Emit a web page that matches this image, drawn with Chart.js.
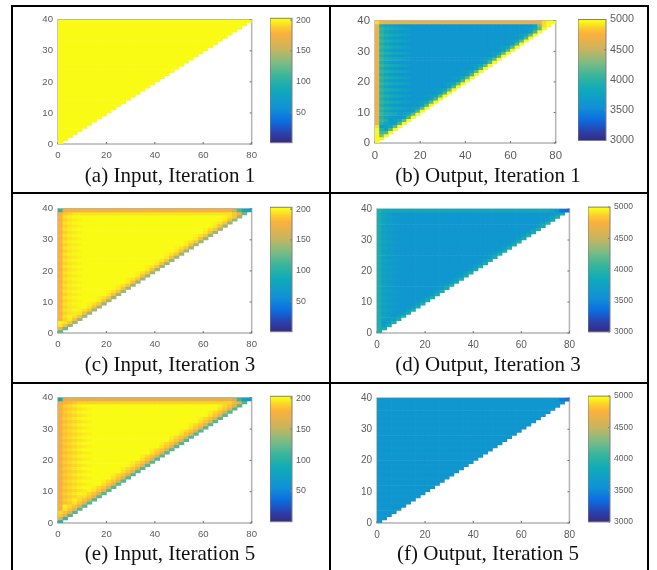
<!DOCTYPE html>
<html>
<head>
<meta charset="utf-8">
<script src="https://cdn.jsdelivr.net/npm/chart.js@4/dist/chart.umd.min.js"></script>
<style>
    html, body { margin: 0; padding: 0; background: #fff; }
    #page { position: relative; width: 657px; height: 570px; overflow: hidden; }
    #page canvas { position: absolute; filter: blur(0.45px); }
    .rule { position: absolute; background: #000; }
    .caption { position: absolute; width: 300px; text-align: center; font: 21px "Liberation Serif", serif; color: #111; line-height: 24px; white-space: nowrap; }
</style>
</head>
<body>
<div id="page"></div>
<script>
const xTicks = [0, 20, 40, 60, 80];
const yTicks = [0, 10, 20, 30, 40];
const inputBarTicks = [50, 100, 150, 200];
const outputBarTicks = [3000, 3500, 4000, 4500, 5000];
const inputRange = [0.5, 203];
const outputRange = [3000, 5000];

// every triangle row, bottom to top: first cells, the value filling the middle, last cells
const midA = [200,200,200,200,200,200,200,200,200,200,200,200,200,200,200,200,200,200,200,200,200,200,200,200,200,200,200,200,200,200,200,200,200,200,200,200,200,200,200,200];

const bE = [4700,3950,3800,3700,3650];
const bO = [4700,4050,3950,3900,3850,3800,3750,3700];
const leftB = [[5000],[5000,4400],[5000,4200],[5000,4100,3950],[5000,3950,3900,3800],[4900,4000,3900,3800,3750],bE,bO,bE,bO,bE,bO,bE,bO,bE,bO,bE,bO,bE,bO,bE,bO,bE,bO,bE,bO,bE,bO,bE,bO,bE,bO,bE,bO,bE,bO,bE,bO,[4700,3900,3800,3750,3700,3680,3650],[4900,4750]];
const midB = [3620,3620,3620,3620,3620,3620,3620,3620,3620,3620,3620,3620,3620,3620,3620,3620,3620,3620,3620,3620,3620,3620,3620,3620,3620,3620,3620,3620,3620,3620,3620,3620,3620,3620,3620,3620,3620,3620,3620,4650];
const brE = [3720,4120,5000];
const brO = [3680,3730,3820,4180,5000];
const rightB = [[5000],[5000],[4300,5000],[4150,5000],brE,brO,brE,brO,brE,brO,brE,brO,brE,brO,brE,brO,brE,brO,brE,brO,brE,brO,brE,brO,brE,brO,brE,brO,brE,brO,brE,brO,brE,brO,brE,brO,brE,brO,[3800,4300,4900,5000],[4700,4900,5000,5000]];

const cE = [178,190,194,196,198];
const cO = [180,194,197,199];
const leftC = [[120],[178],[178,190],cO,cE,cO,cE,cO,cE,cO,cE,cO,cE,cO,cE,cO,cE,cO,cE,cO,cE,cO,cE,cO,cE,cO,cE,cO,cE,cO,cE,cO,cE,cO,cE,cO,cE,cO,[176,186,190,194],[105,172,176]];
const midC = [200,200,200,200,200,200,200,200,200,200,200,200,200,200,200,200,200,200,200,200,200,200,200,200,200,200,200,200,200,200,200,200,200,200,200,200,200,200,194,176];
const crE = [196,184,140];
const crO = [198,194,186,140];
const rightC = [[120],[175,125],crE,crO,crE,crO,crE,crO,crE,crO,crE,crO,crE,crO,crE,crO,crE,crO,crE,crO,crE,crO,crE,crO,crE,crO,crE,crO,crE,crO,crE,crO,crE,crO,crE,crO,crE,crO,[186,176,125],[150,115,88,80]];

const dE = [3900,3720,3680,3650];
const dO = [3920,3780,3720,3680,3650];
const leftD = [[4000],[3950],[3950,3750],dO,dE,dO,dE,dO,dE,dO,dE,dO,dE,dO,dE,dO,dE,dO,dE,dO,dE,dO,dE,dO,dE,dO,dE,dO,dE,dO,dE,dO,dE,dO,dE,dO,dE,dO,[3900,3780,3720],[3950,3850]];
const midD = [3620,3620,3620,3620,3620,3620,3620,3620,3620,3620,3620,3620,3620,3620,3620,3620,3620,3620,3620,3620,3620,3620,3620,3620,3620,3620,3620,3620,3620,3620,3620,3620,3620,3620,3620,3620,3620,3620,3640,3820];
const drE = [3680,3880];
const drO = [3640,3720,3920];
const rightD = [[3950],[3900],drE,drO,drE,drO,drE,drO,drE,drO,drE,drO,drE,drO,drE,drO,drE,drO,drE,drO,drE,drO,drE,drO,drE,drO,drE,drO,drE,drO,drE,drO,drE,drO,drE,drO,drE,drO,[3700,3850],[3750,3600,3400,3350]];

const eE = [172,184,188,191,194,196,198];
const eO = [175,188,192,195,198];
const leftE = [[100],[165],[170,180],eO,eE,eO,eE,eO,eE,eO,eE,eO,eE,eO,eE,eO,eE,eO,eE,eO,eE,eO,eE,eO,eE,eO,eE,eO,eE,eO,eE,eO,eE,eO,eE,eO,eE,eO,[170,178,182,186,190],[85,160,165]];
const midE = [200,200,200,200,200,200,200,200,200,200,200,200,200,200,200,200,200,200,200,200,200,200,200,200,200,200,200,200,200,200,200,200,200,200,200,200,200,200,190,165];
const erE = [194,186,172,118];
const erO = [197,192,185,165,118];
const rightE = [[100],[165,110],erE,erO,erE,erO,erE,erO,erE,erO,erE,erO,erE,erO,erE,erO,erE,erO,erE,erO,erE,erO,erE,erO,erE,erO,erE,erO,erE,erO,erE,erO,erE,erO,erE,erO,erE,erO,[182,168,115],[150,110,75,70]];

const fE = [3650,3630];
const fO = [3640];
const leftF = [fE,fO,fE,fO,fE,fO,fE,fO,fE,fO,fE,fO,fE,fO,fE,fO,fE,fO,fE,fO,fE,fO,fE,fO,fE,fO,fE,fO,fE,fO,fE,fO,fE,fO,fE,fO,fE,fO,fE,[3660]];
const midF = [3620,3610,3620,3610,3620,3610,3620,3610,3620,3610,3620,3610,3620,3610,3620,3610,3620,3610,3620,3610,3620,3610,3620,3610,3620,3610,3620,3610,3620,3610,3620,3610,3620,3610,3620,3610,3620,3620,3620,3640];
const rightF = [[],[],[],[],[],[],[],[],[],[],[],[],[],[],[],[],[],[],[],[],[],[],[],[],[],[],[],[],[],[],[],[],[],[],[],[],[],[],[],[3600,3450,3400]];

const captions = ['(a) Input, Iteration 1', '(b) Output, Iteration 1', '(c) Input, Iteration 3', '(d) Output, Iteration 3', '(e) Input, Iteration 5', '(f) Output, Iteration 5'];

// colormap: [fraction, r, g, b]
const barStops = [[0,53,42,135],[0.07,44,63,168],[0.17,12,108,224],[0.27,16,144,214],[0.43,16,171,184],[0.54,60,181,154],[0.64,125,187,132],[0.75,200,180,95],[0.88,252,176,60],[0.93,252,205,45],[0.985,249,251,21],[1,249,251,21]];

const panels = [
    { left: [], mid: midA, right: [], range: inputRange, barTicks: inputBarTicks, x: 58, y: 17, w: 195, h: 127, barX: 270, barW: 22, size: 9.6, barSize: 8.8, capX: 170, capY: 163 },
    { left: leftB, mid: midB, right: rightB, range: outputRange, barTicks: outputBarTicks, x: 375, y: 17, w: 183, h: 126, barX: 578, barW: 28, size: 11.4, barSize: 10.8, capX: 488, capY: 163 },
    { left: leftC, mid: midC, right: rightC, range: inputRange, barTicks: inputBarTicks, x: 58, y: 206, w: 195, h: 127, barX: 270, barW: 22, size: 9.6, barSize: 8.8, capX: 170, capY: 352 },
    { left: leftD, mid: midD, right: rightD, range: outputRange, barTicks: outputBarTicks, x: 377, y: 206, w: 194, h: 127, barX: 588, barW: 22, size: 10, barSize: 8.5, capX: 488, capY: 352 },
    { left: leftE, mid: midE, right: rightE, range: inputRange, barTicks: inputBarTicks, x: 58, y: 395, w: 195, h: 128, barX: 270, barW: 22, size: 9.6, barSize: 8.8, capX: 170, capY: 541 },
    { left: leftF, mid: midF, right: rightF, range: outputRange, barTicks: outputBarTicks, x: 377, y: 395, w: 194, h: 128, barX: 588, barW: 22, size: 10, barSize: 8.5, capX: 488, capY: 541 }
];

const page = document.getElementById('page');

function addRule(left, top, width, height) {
    const d = document.createElement('div');
    d.className = 'rule';
    d.style.cssText = `left:${left}px;top:${top}px;width:${width}px;height:${height}px`;
    page.appendChild(d);
}

function addCanvas(left, top, width, height) {
    const c = document.createElement('canvas');
    c.width = width;
    c.height = height;
    c.style.cssText = `left:${left}px;top:${top}px;width:${width}px;height:${height}px`;
    page.appendChild(c);
    return c;
}

function colorFor(v, range) {
    const f = Math.min(1, Math.max(0, (v - range[0]) / (range[1] - range[0])));
    let i = 0;
    while (i < barStops.length - 2 && barStops[i + 1][0] < f) i++;
    const a = barStops[i], b = barStops[i + 1];
    const t = (f - a[0]) / (b[0] - a[0]);
    const mix = k => Math.round(a[k] + (b[k] - a[k]) * t);
    return `rgb(${mix(1)},${mix(2)},${mix(3)})`;
}

// triangle cells as floating horizontal bars: row r holds r + 1 cells, two x units wide
function cellsFor(p) {
    const cells = [], colors = [];
    p.mid.forEach((m, r) => {
        const n = r + 1;
        const l = p.left[r] || [], e = p.right[r] || [];
        for (let c = 0; c < n; c++) {
            let v = m;
            if (c < l.length) v = l[c];
            if (n - 1 - c < e.length) v = e[e.length - (n - c)];
            cells.push({ x: [c * 2, c * 2 + 2], y: r + 0.5 });
            colors.push(colorFor(v, p.range));
        }
    });
    return { cells, colors };
}

const framePlugin = {
    id: 'frame',
    beforeDatasetsDraw(chart) {
        const { ctx, chartArea: a, scales } = chart;
        ctx.save();
        ctx.strokeStyle = '#b4b4b4';
        ctx.lineWidth = 1.5;
        ctx.strokeRect(a.left, a.top, a.right - a.left, a.bottom - a.top);
        ctx.strokeStyle = '#707070';
        ctx.lineWidth = 1;
        ctx.beginPath();
        scales.x.ticks.forEach(t => {
            const px = scales.x.getPixelForValue(t.value);
            ctx.moveTo(px, a.bottom);
            ctx.lineTo(px, a.bottom - 2);
        });
        scales.y.ticks.forEach(t => {
            const py = scales.y.getPixelForValue(t.value);
            ctx.moveTo(a.right, py);
            ctx.lineTo(a.right - 2, py);
        });
        ctx.stroke();
        ctx.restore();
    }
};

const barFramePlugin = {
    id: 'barFrame',
    afterDatasetsDraw(chart) {
        const { ctx, chartArea: a, scales } = chart;
        ctx.save();
        ctx.strokeStyle = '#808080';
        ctx.lineWidth = 1;
        ctx.strokeRect(a.left, a.top, a.right - a.left, a.bottom - a.top);
        ctx.beginPath();
        scales.y.ticks.forEach(t => {
            const py = scales.y.getPixelForValue(t.value);
            ctx.moveTo(a.right, py);
            ctx.lineTo(a.right - 2, py);
        });
        ctx.stroke();
        ctx.restore();
    }
};

function drawTriangle(p) {
    const marginL = 28, marginT = 8, marginR = 10, marginB = 22;
    const canvas = addCanvas(p.x - marginL, p.y - marginT, p.w + marginL + marginR, p.h + marginT + marginB);
    const { cells, colors } = cellsFor(p);
    new Chart(canvas.getContext('2d'), {
        type: 'bar',
        data: { datasets: [{ data: cells, backgroundColor: colors, borderWidth: 0, barPercentage: 1, categoryPercentage: 1 }] },
        plugins: [framePlugin],
        options: {
            indexAxis: 'y',
            responsive: false,
            animation: false,
            layout: { padding: { top: marginT, right: marginR } },
            plugins: { legend: { display: false }, tooltip: { enabled: false } },
            scales: {
                x: {
                    type: 'linear', min: xTicks[0], max: xTicks[xTicks.length - 1],
                    afterBuildTicks: s => { s.ticks = xTicks.map(value => ({ value })); },
                    afterFit: s => { s.height = marginB; },
                    grid: { display: false, drawTicks: false }, border: { display: false },
                    ticks: { color: '#5c5c5c', padding: 6, maxRotation: 0, autoSkip: false, font: { family: 'Liberation Sans', size: p.size } }
                },
                y: {
                    type: 'linear', offset: false, min: yTicks[0], max: yTicks[yTicks.length - 1],
                    afterBuildTicks: s => { s.ticks = yTicks.map(value => ({ value })); },
                    afterFit: s => { s.width = marginL; },
                    grid: { display: false, drawTicks: false }, border: { display: false },
                    ticks: { color: '#5c5c5c', padding: 5, autoSkip: false, font: { family: 'Liberation Sans', size: p.size } }
                }
            }
        }
    });
}

function barGradient(chart) {
    const a = chart.chartArea;
    if (!a) return '#0f96d0';
    const g = chart.ctx.createLinearGradient(0, a.bottom, 0, a.top);
    barStops.forEach(s => g.addColorStop(s[0], `rgb(${s[1]},${s[2]},${s[3]})`));
    return g;
}

function drawBar(p) {
    const marginR = 34, marginV = 8;
    const canvas = addCanvas(p.barX, p.y - marginV, p.barW + marginR, p.h + marginV * 2);
    new Chart(canvas.getContext('2d'), {
        type: 'bar',
        data: {
            labels: [''],
            datasets: [{
                data: [p.range],
                backgroundColor: ctx => barGradient(ctx.chart),
                borderWidth: 0, barPercentage: 1, categoryPercentage: 1
            }]
        },
        plugins: [barFramePlugin],
        options: {
            responsive: false,
            animation: false,
            layout: { padding: { top: marginV, bottom: marginV } },
            plugins: { legend: { display: false }, tooltip: { enabled: false } },
            scales: {
                x: { display: false },
                y: {
                    position: 'right', type: 'linear', min: p.range[0], max: p.range[1],
                    afterBuildTicks: s => { s.ticks = p.barTicks.map(value => ({ value })); },
                    afterFit: s => { s.width = marginR; },
                    grid: { display: false, drawTicks: false }, border: { display: false },
                    ticks: { color: '#5c5c5c', padding: 4, autoSkip: false, callback: v => String(v), font: { family: 'Liberation Sans', size: p.barSize } }
                }
            }
        }
    });
}

panels.forEach((p, i) => {
    drawTriangle(p);
    drawBar(p);
    const cap = document.createElement('div');
    cap.className = 'caption';
    cap.textContent = captions[i];
    cap.style.left = (p.capX - 150) + 'px';
    cap.style.top = p.capY + 'px';
    page.appendChild(cap);
});

addRule(11, 5, 638, 2);
addRule(11, 192, 638, 2);
addRule(11, 382, 638, 2);
addRule(11, 5, 2, 565);
addRule(329, 5, 2, 565);
addRule(647, 5, 2, 565);
</script>
</body>
</html>
